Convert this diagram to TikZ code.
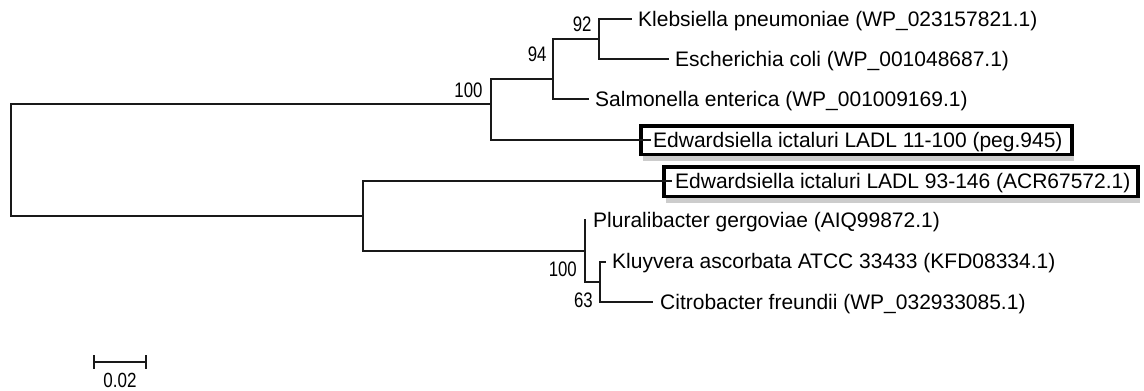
\documentclass[tikz,border=0pt]{standalone}
\usepackage{fontspec}
\setmainfont{Liberation Sans}
\newfontfamily\bootfont[FakeStretch=0.8]{Liberation Sans}
\newfontfamily\scalefont[FakeStretch=0.83]{Liberation Sans}
\begin{document}
\begin{tikzpicture}[x=1pt,y=-1pt,
  br/.style={line width=2pt, black!90, line cap=rect},
  leaf/.style={anchor=base west, inner sep=0pt, font=\fontsize{21}{24}\selectfont},
  boot/.style={anchor=base east, inner sep=0pt, font=\bootfont\fontsize{21}{24}\selectfont},
  hlbox/.style={draw=black, line width=3.2pt, fill=white},
  hlshadow/.style={fill=black!20, draw=none}]
\useasboundingbox (0,0) rectangle (1144,391);

% internal nodes
\coordinate (root) at (11,160);
\coordinate (nA)   at (491,104.3);
\coordinate (n94)  at (553,79);
\coordinate (n92)  at (599,39);
\coordinate (nB)   at (363,215.7);
\coordinate (nP)   at (585,250.7);
\coordinate (n63)  at (600,281.5);

% leaf ends
\coordinate (eKleb) at (631,19);
\coordinate (eEsch) at (668,59);
\coordinate (eSalm) at (588,99);
\coordinate (eEdw1) at (650,140);
\coordinate (eEdw2) at (671,180.5);
\coordinate (ePlur) at (585,219.5);
\coordinate (eKluy) at (605,262);
\coordinate (eCitr) at (652,302);

% highlight boxes
\fill[hlshadow] (643,150) rectangle (1074,161);
\fill[hlshadow] (666,192) rectangle (1140,203);
\draw[hlbox] (641,126) rectangle (1072,154.5);
\draw[hlbox] (664,167) rectangle (1138,196.5);

% branches
\draw[br] (root) |- (nA);
\draw[br] (root) |- (nB);
\draw[br] (nA) |- (n94);
\draw[br] (nA) |- (eEdw1);
\draw[br] (n94) |- (n92);
\draw[br] (n94) |- (eSalm);
\draw[br] (n92) |- (eKleb);
\draw[br] (n92) |- (eEsch);
\draw[br] (nB) |- (eEdw2);
\draw[br] (nB) |- (nP);
\draw[br] (nP) |- (ePlur);
\draw[br] (nP) |- (n63);
\draw[br] (n63) |- (eKluy);
\draw[br] (n63) |- (eCitr);

% leaf labels
\node[leaf] (lKleb) at (638,26.5) {Klebsiella pneumoniae (WP\_023157821.1)};
\node[leaf] (lEsch) at (675,66.5) {Escherichia coli (WP\_001048687.1)};
\node[leaf] (lSalm) at (595,106.5) {Salmonella enterica (WP\_001009169.1)};
\node[leaf] (lEdw1) at (653,147.5) {Edwardsiella ictaluri LADL 11-100 (peg.945)};
\node[leaf] (lEdw2) at (675,188) {Edwardsiella ictaluri LADL 93-146 (ACR67572.1)};
\node[leaf] (lPlur) at (593,227.5) {Pluralibacter gergoviae (AIQ99872.1)};
\node[leaf] (lKluy) at (612,268.5) {Kluyvera ascorbata ATCC 33433 (KFD08334.1)};
\node[leaf] (lCitr) at (660,309.5) {Citrobacter freundii (WP\_032933085.1)};

% bootstrap values
\node[boot] (b100a) at (482.7,97.3) {100};
\node[boot] (b94)   at (546.7,61.7) {94};
\node[boot] (b92)   at (591.7,31) {92};
\node[boot] (b100b) at (577,276.8) {100};
\node[boot] (b63)   at (593,307.8) {63};

% scale bar
\coordinate (sL) at (93.5,361.5);
\coordinate (sR) at (146,361.5);
\draw[br, line cap=butt] (sL) -- (sR);
\draw[br, line cap=butt] ([yshift=-7pt]sL) -- ([yshift=7pt]sL);
\draw[br, line cap=butt] ([yshift=-7pt]sR) -- ([yshift=7pt]sR);
\node[anchor=base, inner sep=0pt, font=\scalefont\fontsize{20.5}{23}\selectfont] (scl) at (120,387) {0.02};
\end{tikzpicture}
\end{document}
